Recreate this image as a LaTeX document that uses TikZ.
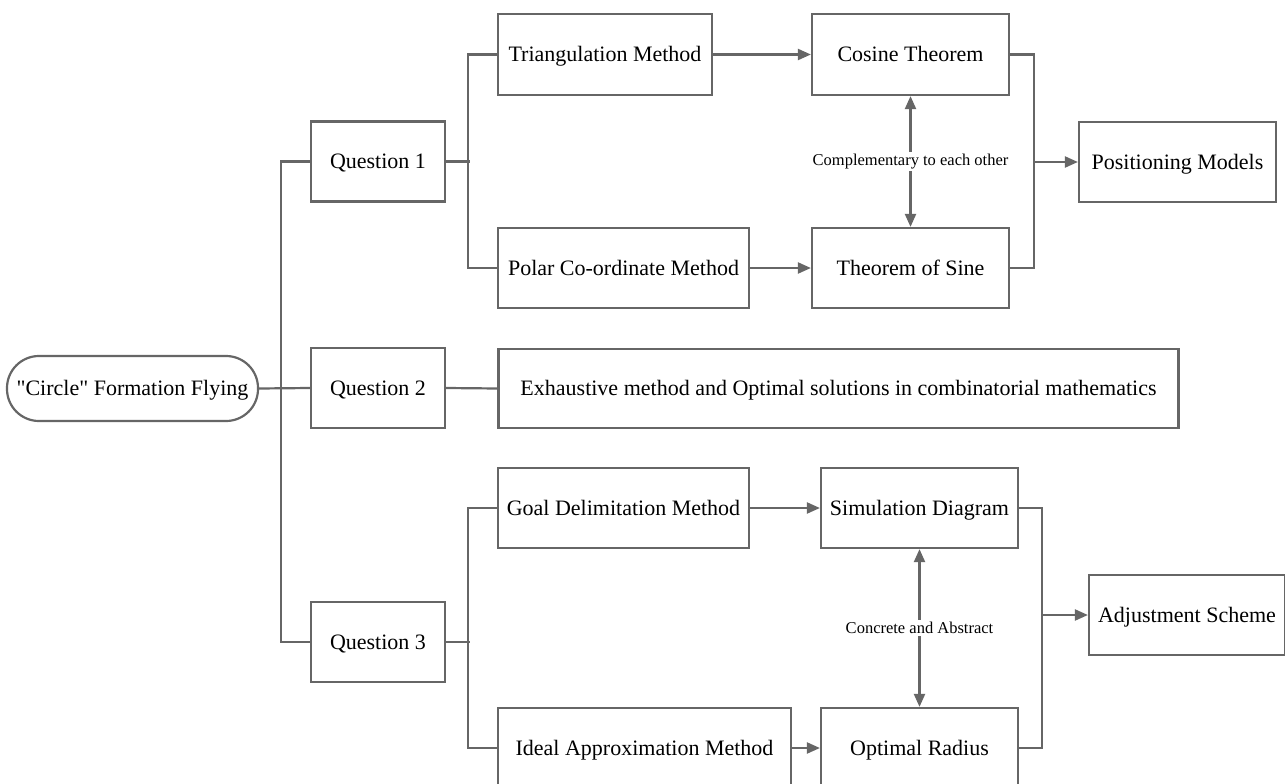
\documentclass[tikz,border=0pt]{standalone}
\usepackage{fontspec}
\setmainfont{Liberation Serif}[Ligatures=TeXOff]
\usetikzlibrary{arrows.meta}
\definecolor{lc}{HTML}{666666}
\begin{document}
\begin{tikzpicture}[x=1pt,y=-1pt,
  box/.style={draw=lc,line width=2.2pt,fill=white,inner sep=0pt,align=center,text height=17.5pt,text depth=3pt,font=\fontsize{22}{26}\selectfont},
  conn/.style={draw=lc,line width=2.2pt},
  arr/.style={conn,-{Triangle[length=13pt,width=11pt]}},
  darr/.style={conn,{Triangle[length=13pt,width=11pt]}-{Triangle[length=13pt,width=11pt]}},
  lbl/.style={fill=white,inner sep=2pt,font=\fontsize{16.5}{19}\selectfont}]
\useasboundingbox (0,0) rectangle (1285,784);
\clip (0,0) rectangle (1285,784);
% nodes
\node[box,minimum width=251pt,minimum height=65pt,rounded corners=32pt] (root) at (132.5,388.5) {"Circle" Formation Flying};
\node[box,minimum width=134pt,minimum height=80pt] (q1) at (378,161.5) {Question 1};
\node[box,minimum width=134pt,minimum height=80pt] (q2) at (378,388) {Question 2};
\node[box,minimum width=134pt,minimum height=80pt] (q3) at (378,642) {Question 3};
\node[box,minimum width=214pt,minimum height=81pt] (tri) at (605,54.5) {Triangulation Method};
\node[box,minimum width=251pt,minimum height=80pt] (polar) at (623.5,268) {Polar Co-ordinate Method};
\node[box,minimum width=197pt,minimum height=81pt] (cos) at (910.5,54.5) {Cosine Theorem};
\node[box,minimum width=197pt,minimum height=80pt] (sine) at (910.5,268) {Theorem of Sine};
\node[box,minimum width=197pt,minimum height=80pt] (pos) at (1177.5,162) {Positioning Models};
\node[box,minimum width=680pt,minimum height=79pt] (exh) at (838.5,388.5) {Exhaustive method and Optimal solutions in combinatorial mathematics};
\node[box,minimum width=251pt,minimum height=80pt] (goal) at (623.5,508) {Goal Delimitation Method};
\node[box,minimum width=293pt,minimum height=80pt] (ideal) at (644.5,748) {Ideal Approximation Method};
\node[box,minimum width=197pt,minimum height=80pt] (sim) at (919.5,508) {Simulation Diagram};
\node[box,minimum width=197pt,minimum height=80pt] (opt) at (919.5,748) {Optimal Radius};
\node[box,minimum width=196pt,minimum height=80pt] (adj) at (1187,615) {Adjustment Scheme};
\coordinate (m1) at (1033,162);
\coordinate (m2) at (1041,615);
% connectors
\draw[conn] (root.east) -- (q2.west);
\draw[conn] (q1.west) -- ++(-29,0) |- (q3.west);
\draw[conn] (q1.east) -- ++(24,0);
\draw[conn] (tri.west) -- ++(-29,0) |- (polar.west);
\draw[conn] (q2.east) -- (exh.west);
\draw[conn] (q3.east) -- ++(24,0);
\draw[conn] (goal.west) -- ++(-29,0) |- (ideal.west);
\draw[arr] (tri.east) -- (cos.west);
\draw[arr] (polar.east) -- (sine.west);
\draw[arr] (goal.east) -- (sim.west);
\draw[arr] (ideal.east) -- (opt.west);
\draw[conn] (cos.east) -- ++(24,0) |- (sine.east);
\draw[arr] (m1) -- (pos.west);
\draw[conn] (sim.east) -- ++(23,0) |- (opt.east);
\draw[arr] (m2) -- (adj.west);
\draw[darr] (cos.south) -- (sine.north) node[midway,lbl] {Complementary to each other};
\draw[darr] (sim.south) -- (opt.north) node[midway,lbl] {Concrete and Abstract};
\end{tikzpicture}
\end{document}
